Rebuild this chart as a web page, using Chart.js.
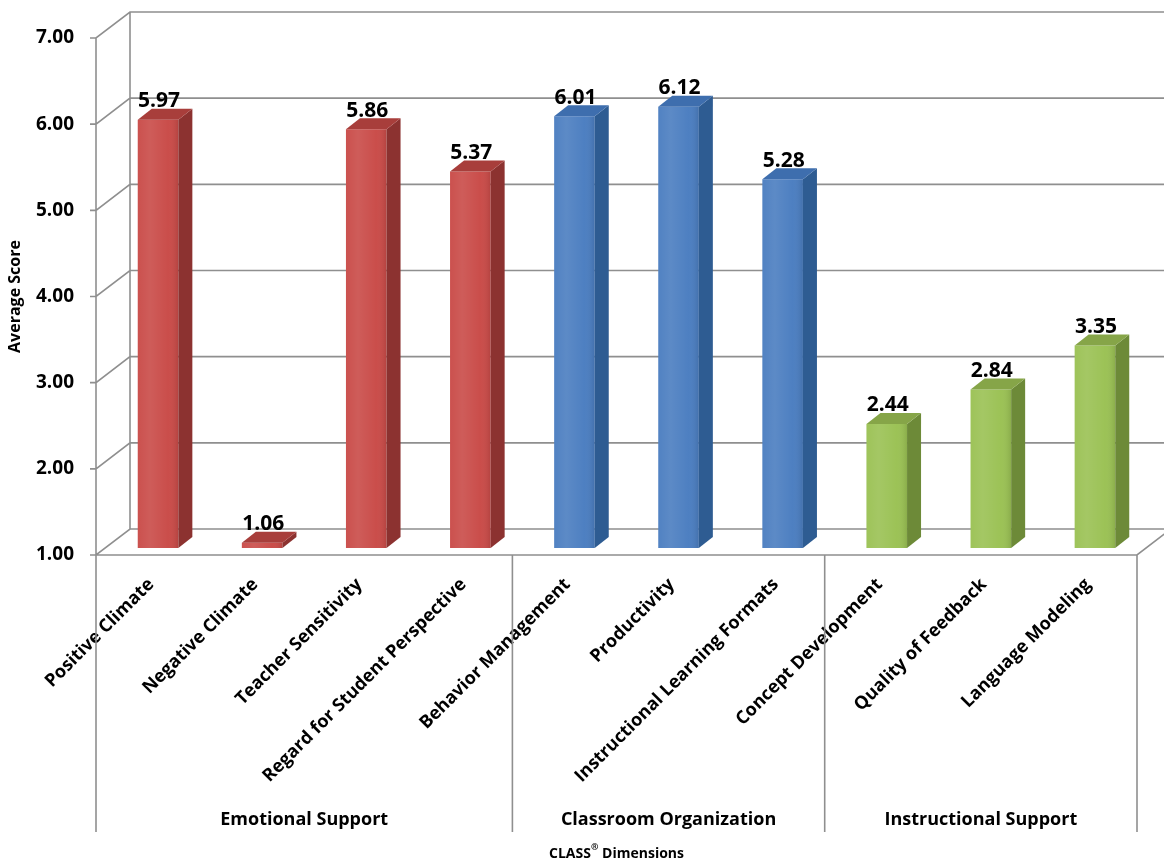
<!DOCTYPE html>
<html lang="en">

<head>
    <meta charset="UTF-8">
    <script src="https://cdn.jsdelivr.net/npm/chart.js"></script>
    <title>CLASS Dimensions</title>
    <style>
        html, body { margin: 0; padding: 0; background: #fff; }
        .grafico { width: 1164px; height: 861px; }
    </style>
</head>

<body>
    <div class="grafico">
        <canvas id="classChart"></canvas>
    </div>
</body>

</html>
<script>
    // dados
    const categorias = ['Positive Climate', 'Negative Climate', 'Teacher Sensitivity', 'Regard for Student Perspective',
        'Behavior Management', 'Productivity', 'Instructional Learning Formats',
        'Concept Development', 'Quality of Feedback', 'Language Modeling'];
    const medias = [5.97, 1.06, 5.86, 5.37, 6.01, 6.12, 5.28, 2.44, 2.84, 3.35];
    const dominios = ['Emotional Support', 'Classroom Organization', 'Instructional Support'];
    const tamanhoDominio = [4, 3, 3];
    const ticksY = [1, 2, 3, 4, 5, 6, 7];

    // cores de cada domínio: frente, lateral, topo
    const coresDominio = [
        { frente: '#C94A47', lado: '#8C3230', topo: '#A83E3B' },
        { frente: '#4A7DC0', lado: '#2E5C92', topo: '#3E6EAE' },
        { frente: '#9AC153', lado: '#6D8A38', topo: '#86A548' }
    ];

    const dominioDaBarra = [];
    tamanhoDominio.forEach((n, d) => { for (let i = 0; i < n; i++) dominioDaBarra.push(d); });

    const FONTE = '"Open Sans", "Noto Sans", sans-serif';
    const COR_LINHA = '#8f8f8f';

    // profundidade das paredes e das barras
    const PX = 34, PY = -26;
    const BX = 10, BY = -7;
    const SX = 14, SY = -11;

    const efeito3d = {
        id: 'efeito3d',
        beforeDatasetsDraw(chart) {
            const ctx = chart.ctx;
            const area = chart.chartArea;
            const y = chart.scales.y;
            const x = chart.scales.x;
            const passo = (area.right - area.left) / categorias.length;

            ctx.save();
            ctx.strokeStyle = COR_LINHA;
            ctx.lineWidth = 1.6;
            ctx.beginPath();
            ticksY.forEach(v => {
                const py = y.getPixelForValue(v);
                ctx.moveTo(area.left - 6, py);
                ctx.lineTo(area.left, py);
                ctx.lineTo(area.left + PX, py + PY);
                ctx.lineTo(area.right + PX, py + PY);
            });
            // parede do fundo
            ctx.moveTo(area.left + PX, area.top + PY);
            ctx.lineTo(area.left + PX, area.bottom + PY);
            // eixo frontal e piso
            ctx.moveTo(area.left, area.top);
            ctx.lineTo(area.left, 832);
            ctx.moveTo(area.left, area.bottom);
            ctx.lineTo(area.right, area.bottom);
            ctx.lineTo(area.right + PX, area.bottom + PY);
            // divisões entre domínios
            let acc = 0;
            tamanhoDominio.forEach(n => {
                acc += n;
                const bx = x.getPixelForValue(acc - 1) + passo / 2;
                ctx.moveTo(bx, area.bottom);
                ctx.lineTo(bx, 832);
            });
            ctx.stroke();
            ctx.restore();

            ctx.save();
            ctx.translate(BX, BY);
        },
        afterDatasetsDraw(chart) {
            const ctx = chart.ctx;
            const meta = chart.getDatasetMeta(0);
            meta.data.forEach((bar, i) => {
                const p = bar.getProps(['x', 'y', 'base', 'width'], true);
                const x0 = p.x - p.width / 2, x1 = p.x + p.width / 2;
                const cor = coresDominio[dominioDaBarra[i]];

                // brilho na frente
                const g = ctx.createLinearGradient(x0, 0, x1, 0);
                g.addColorStop(0, 'rgba(255,255,255,0.04)');
                g.addColorStop(0.3, 'rgba(255,255,255,0.10)');
                g.addColorStop(0.75, 'rgba(255,255,255,0.02)');
                g.addColorStop(1, 'rgba(0,0,0,0.10)');
                ctx.fillStyle = g;
                ctx.fillRect(x0, p.y, p.width, p.base - p.y);

                // lateral
                ctx.fillStyle = cor.lado;
                ctx.beginPath();
                ctx.moveTo(x1, p.y);
                ctx.lineTo(x1 + SX, p.y + SY);
                ctx.lineTo(x1 + SX, p.base + SY);
                ctx.lineTo(x1, p.base);
                ctx.closePath();
                ctx.fill();

                // topo
                ctx.fillStyle = cor.topo;
                ctx.beginPath();
                ctx.moveTo(x0, p.y);
                ctx.lineTo(x0 + SX, p.y + SY);
                ctx.lineTo(x1 + SX, p.y + SY);
                ctx.lineTo(x1, p.y);
                ctx.closePath();
                ctx.fill();
            });
            ctx.restore();

            // rótulos de valor
            ctx.save();
            ctx.fillStyle = '#000';
            ctx.font = 'bold 21px ' + FONTE;
            ctx.textAlign = 'center';
            ctx.textBaseline = 'bottom';
            meta.data.forEach((bar, i) => {
                const p = bar.getProps(['x', 'y'], true);
                ctx.fillText(medias[i].toFixed(2), p.x + BX + 1, p.y + BY + SY + 3);
            });
            ctx.restore();
        },
        afterDraw(chart) {
            const ctx = chart.ctx;
            const area = chart.chartArea;
            const x = chart.scales.x;
            const passo = (area.right - area.left) / categorias.length;

            ctx.save();
            ctx.fillStyle = '#000';
            ctx.font = 'bold 18px ' + FONTE;
            ctx.textAlign = 'center';
            ctx.textBaseline = 'middle';
            let ini = 0;
            tamanhoDominio.forEach((n, d) => {
                const a = x.getPixelForValue(ini) - passo / 2;
                const b = x.getPixelForValue(ini + n - 1) + passo / 2;
                ctx.fillText(dominios[d], (a + b) / 2, 820);
                ini += n;
            });

            // título do eixo x com ®
            const t1 = 'CLASS', t3 = ' Dimensions';
            ctx.font = 'bold 9px ' + FONTE;
            const wReg = ctx.measureText('®').width;
            ctx.font = 'bold 14px ' + FONTE;
            const w1 = ctx.measureText(t1).width, w3 = ctx.measureText(t3).width;
            let sx = (area.left + area.right) / 2 - (w1 + wReg + w3) / 2;
            ctx.textAlign = 'left';
            ctx.textBaseline = 'alphabetic';
            ctx.fillText(t1, sx, 858);
            ctx.font = 'bold 9px ' + FONTE;
            ctx.fillText('®', sx + w1, 850);
            ctx.font = 'bold 14px ' + FONTE;
            ctx.fillText(t3, sx + w1 + wReg, 858);
            ctx.restore();
        }
    };

    const config = {
        type: 'bar',
        data: {
            labels: categorias,
            datasets: [{
                data: medias,
                base: 1,
                backgroundColor: dominioDaBarra.map(d => coresDominio[d].frente),
                borderWidth: 0,
                barPercentage: 0.39,
                categoryPercentage: 1,
                clip: false
            }]
        },
        options: {
            responsive: true,
            maintainAspectRatio: false,
            animation: false,
            layout: { padding: { top: 38, right: 27, left: 0, bottom: 0 } },
            plugins: {
                legend: { display: false },
                tooltip: { enabled: false }
            },
            scales: {
                x: {
                    grid: { display: false },
                    border: { display: false },
                    ticks: {
                        autoSkip: false,
                        minRotation: 45,
                        maxRotation: 45,
                        padding: 11,
                        labelOffset: 3,
                        color: '#000',
                        font: { family: FONTE, size: 18, weight: 'bold' }
                    },
                    afterFit(scale) {
                        scale.height = 306;
                        scale.paddingLeft = 0;
                        scale.paddingRight = 0;
                    }
                },
                y: {
                    min: 1,
                    max: 7,
                    grid: { display: false },
                    border: { display: false },
                    afterBuildTicks(scale) {
                        scale.ticks = ticksY.map(v => ({ value: v }));
                    },
                    ticks: {
                        padding: 14,
                        color: '#000',
                        font: { family: FONTE, size: 19, weight: 'bold' },
                        callback: v => Number(v).toFixed(2)
                    },
                    title: {
                        display: true,
                        text: 'Average Score',
                        color: '#000',
                        font: { family: FONTE, size: 16, weight: 'bold' },
                        padding: { top: 6, bottom: 0 }
                    },
                    afterFit(scale) {
                        scale.width = 96;
                        scale.paddingTop = 0;
                        scale.paddingBottom = 0;
                    }
                }
            }
        },
        plugins: [efeito3d]
    };

    let myChart = new Chart(document.getElementById('classChart'), config);
</script>
